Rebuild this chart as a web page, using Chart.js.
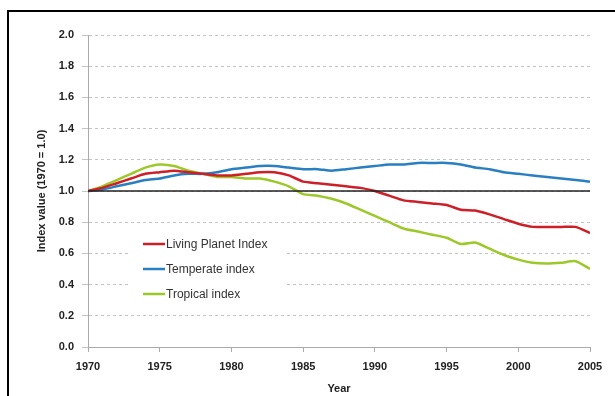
<!DOCTYPE html>
<html>
<head>
<meta charset="utf-8">
<script src="https://cdn.jsdelivr.net/npm/chart.js@4/dist/chart.umd.min.js"></script>
<style>
  html, body { margin: 0; padding: 0; background: #fff; overflow: hidden; }
  #frame { position: absolute; left: 7px; top: 10px; width: 700px; height: 500px; border: 2px solid #000; }
  #wrap { position: absolute; left: 0; top: 0; width: 615px; height: 396px; }
</style>
</head>
<body>
<div id="frame"></div>
<div id="wrap"><canvas id="lpiChart" width="615" height="396"></canvas></div>
<script>
const years = [1970, 1971, 1972, 1973, 1974, 1975, 1976, 1977, 1978, 1979,
               1980, 1981, 1982, 1983, 1984, 1985, 1986, 1987, 1988, 1989,
               1990, 1991, 1992, 1993, 1994, 1995, 1996, 1997, 1998, 1999,
               2000, 2001, 2002, 2003, 2004, 2005];
const livingPlanet = [1.00, 1.02, 1.05, 1.08, 1.11, 1.12, 1.13, 1.12, 1.11, 1.10,
                      1.10, 1.11, 1.12, 1.12, 1.10, 1.06, 1.05, 1.04, 1.03, 1.02,
                      1.00, 0.97, 0.94, 0.93, 0.92, 0.91, 0.88, 0.875, 0.85, 0.82,
                      0.79, 0.77, 0.77, 0.77, 0.77, 0.73];
const temperate = [1.00, 1.01, 1.03, 1.05, 1.07, 1.08, 1.10, 1.11, 1.11, 1.12,
                   1.14, 1.15, 1.16, 1.16, 1.15, 1.14, 1.14, 1.13, 1.14, 1.15,
                   1.16, 1.17, 1.17, 1.18, 1.18, 1.18, 1.17, 1.15, 1.14, 1.12,
                   1.11, 1.10, 1.09, 1.08, 1.07, 1.06];
const tropical = [1.00, 1.03, 1.07, 1.11, 1.15, 1.17, 1.16, 1.13, 1.11, 1.09,
                  1.09, 1.08, 1.08, 1.06, 1.03, 0.98, 0.97, 0.95, 0.92, 0.88,
                  0.84, 0.80, 0.76, 0.74, 0.72, 0.70, 0.66, 0.67, 0.63, 0.59,
                  0.56, 0.54, 0.535, 0.54, 0.55, 0.50];
const seriesNames = ['Living Planet Index', 'Temperate index', 'Tropical index'];
const baseline = 1.0;

function toPoints(vals) {
    return vals.map((v, i) => ({ x: years[i], y: v }));
}

const colors = ['#cc1f27', '#2a7fc0', '#9cc82a'];

// legend drawn inside the plot, like the original
const insideLegend = {
    id: 'insideLegend',
    afterDatasetsDraw(chart) {
        const ctx = chart.ctx;
        const area = chart.chartArea;
        const x0 = area.left + 55;
        const y0 = area.top + 209;
        ctx.save();
        ctx.fillStyle = '#fff';
        ctx.fillRect(x0 - 13, y0 - 12, 157, 70);
        ctx.font = '12px "Liberation Sans", Arial, sans-serif';
        ctx.textBaseline = 'middle';
        for (let i = 0; i < seriesNames.length; i++) {
            const y = y0 + i * 25;
            ctx.strokeStyle = colors[i];
            ctx.lineWidth = 2.5;
            ctx.beginPath();
            ctx.moveTo(x0, y);
            ctx.lineTo(x0 + 22, y);
            ctx.stroke();
            ctx.fillStyle = '#333';
            ctx.fillText(seriesNames[i], x0 + 23, y + 1);
        }
        ctx.restore();
    }
};

const data = {
    datasets: [
        {
            label: 'baseline',
            data: [{ x: years[0], y: baseline }, { x: years[years.length - 1], y: baseline }],
            borderColor: '#222',
            borderWidth: 1.5,
            pointRadius: 0
        },
        {
            label: seriesNames[0],
            data: toPoints(livingPlanet),
            borderColor: colors[0],
            borderWidth: 2.5,
            pointRadius: 0,
            tension: 0.2
        },
        {
            label: seriesNames[1],
            data: toPoints(temperate),
            borderColor: colors[1],
            borderWidth: 2.5,
            pointRadius: 0,
            tension: 0.2
        },
        {
            label: seriesNames[2],
            data: toPoints(tropical),
            borderColor: colors[2],
            borderWidth: 2.5,
            pointRadius: 0,
            tension: 0.2
        }
    ]
};

const tickFont = { family: '"Liberation Sans", Arial, sans-serif', size: 11, weight: 'bold' };

const config = {
    type: 'line',
    data: data,
    plugins: [insideLegend],
    options: {
        responsive: false,
        animation: false,
        layout: { padding: { left: 32, top: 35, right: 25, bottom: 0 } },
        plugins: {
            legend: { display: false },
            tooltip: { enabled: false }
        },
        scales: {
            x: {
                type: 'linear',
                min: 1970,
                max: 2005,
                ticks: {
                    stepSize: 5,
                    color: '#222',
                    font: tickFont,
                    padding: 8,
                    callback: (v) => String(v)
                },
                grid: {
                    drawOnChartArea: false,
                    drawTicks: true,
                    tickLength: 5,
                    color: '#aaa'
                },
                border: { color: '#aaa', width: 1 },
                title: {
                    display: true,
                    text: 'Year',
                    color: '#222',
                    font: tickFont,
                    padding: { top: 0, bottom: 0 }
                },
                afterFit: (scale) => { scale.height = 49; }
            },
            y: {
                min: 0,
                max: 2,
                ticks: {
                    stepSize: 0.2,
                    color: '#222',
                    font: tickFont,
                    padding: 8,
                    callback: (v) => v.toFixed(1)
                },
                grid: {
                    color: (c) => (c.tick && c.tick.value === 0 ? 'rgba(0,0,0,0)' : '#c4c4c4'),
                    tickLength: 6,
                    tickColor: '#c4c4c4'
                },
                border: { color: '#aaa', width: 1, dash: [3, 3] },
                title: {
                    display: true,
                    text: 'Index value (1970 = 1.0)',
                    color: '#222',
                    font: tickFont,
                    padding: { top: 3, bottom: 4 }
                },
                afterFit: (scale) => { scale.width = 56; }
            }
        }
    }
};

const lpiChart = new Chart(document.getElementById('lpiChart'), config);
</script>
</body>
</html>
